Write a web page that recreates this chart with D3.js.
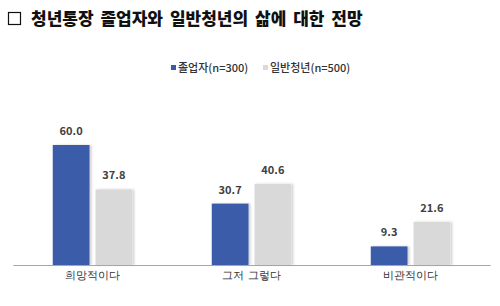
<!DOCTYPE html>
<html>
  <head>
    <meta charset="utf-8">
    <script src="https://d3js.org/d3.v7.min.js"></script>
    <title>청년통장 졸업자와 일반청년의 삶에 대한 전망</title>
    <style>
      body {
        margin: 0;
        background: #fff;
        font-family: "Noto Sans CJK KR", "Noto Sans", sans-serif;
      }
      .title {
        font-size: 17px;
        font-weight: 900;
        fill: #111;
        letter-spacing: 0px;
        word-spacing: 3px;
      }
      .legend text {
        font-size: 11px;
        font-weight: 500;
        fill: #333;
      }
      .value {
        font-size: 11px;
        font-weight: 700;
        fill: #404040;
      }
      .tick text {
        font-size: 11px;
        fill: #333;
      }
    </style>
  </head>
  <body>
    <svg id="chart" width="500" height="306"></svg>
    <script>
      const categories = ['희망적이다', '그저 그렇다', '비관적이다'];
      const seriesNames = ['졸업자(n=300)', '일반청년(n=500)'];
      const graduates = [60.0, 30.7, 9.3];
      const general = [37.8, 40.6, 21.6];
      const colors = ['#3b5ba8', '#d9d9d9'];

      const svg = d3.select('#chart');
      const width = +svg.attr('width');
      const height = +svg.attr('height');
      const margin = { left: 13, right: 10, top: 145, bottom: 41 };
      const baseline = height - margin.bottom;

      // title with checkbox
      svg.append('rect')
        .attr('x', 8.5).attr('y', 12.5)
        .attr('width', 12).attr('height', 12)
        .attr('fill', 'none')
        .attr('stroke', '#111')
        .attr('stroke-width', 1.2);
      svg.append('text')
        .attr('class', 'title')
        .attr('x', 31)
        .attr('y', 25)
        .text('청년통장 졸업자와 일반청년의 삶에 대한 전망');

      const defs = svg.append('defs');
      const f = defs.append('filter').attr('id', 'shadow')
        .attr('x', '-10%').attr('y', '-10%').attr('width', '130%').attr('height', '120%');
      f.append('feDropShadow')
        .attr('dx', 2).attr('dy', 0).attr('stdDeviation', 0.8)
        .attr('flood-color', '#000').attr('flood-opacity', 0.18);

      const x0 = d3.scaleBand()
        .domain(categories)
        .range([margin.left, width - margin.right])
        .paddingInner(0.5)
        .paddingOuter(0.25);

      const x1 = d3.scaleBand()
        .domain(seriesNames)
        .range([0, x0.bandwidth()])
        .paddingInner(0.14);

      const y = d3.scaleLinear()
        .domain([0, 60])
        .range([baseline, baseline - 120]);

      const rows = categories.map((c, i) => ({
        category: c,
        values: [graduates[i], general[i]]
      }));

      const groups = svg.selectAll('.group')
        .data(rows)
        .enter().append('g')
          .attr('class', 'group')
          .attr('transform', d => `translate(${x0(d.category)},0)`);

      groups.selectAll('rect')
        .data(d => d.values.map((v, i) => ({ series: seriesNames[i], value: v, i })))
        .enter().append('rect')
          .attr('x', d => x1(d.series))
          .attr('y', d => y(d.value))
          .attr('width', x1.bandwidth())
          .attr('height', d => baseline - y(d.value))
          .attr('fill', d => colors[d.i])
          .attr('filter', 'url(#shadow)');

      groups.selectAll('.value')
        .data(d => d.values.map((v, i) => ({ series: seriesNames[i], value: v })))
        .enter().append('text')
          .attr('class', 'value')
          .attr('x', d => x1(d.series) + x1.bandwidth() / 2)
          .attr('y', d => y(d.value) - 10)
          .attr('text-anchor', 'middle')
          .text(d => d3.format('.1f')(d.value));

      const xAxis = d3.axisBottom(x0).tickSize(0).tickPadding(6);
      const xAxisG = svg.append('g')
        .attr('transform', `translate(0,${baseline})`)
        .call(xAxis);
      xAxisG.select('.domain')
        .attr('stroke', '#a6a6a6')
        .attr('stroke-width', 1.2);
      xAxisG.selectAll('.tick text')
        .attr('font-family', null)
        .attr('font-size', null);

      // legend
      const legend = svg.append('g').attr('class', 'legend');
      const legendX = [171, 263];
      seriesNames.forEach((name, i) => {
        legend.append('rect')
          .attr('x', legendX[i]).attr('y', 65)
          .attr('width', 5).attr('height', 5)
          .attr('fill', colors[i]);
        legend.append('text')
          .attr('x', legendX[i] + 7)
          .attr('y', 72)
          .text(name);
      });
    </script>
  </body>
</html>
